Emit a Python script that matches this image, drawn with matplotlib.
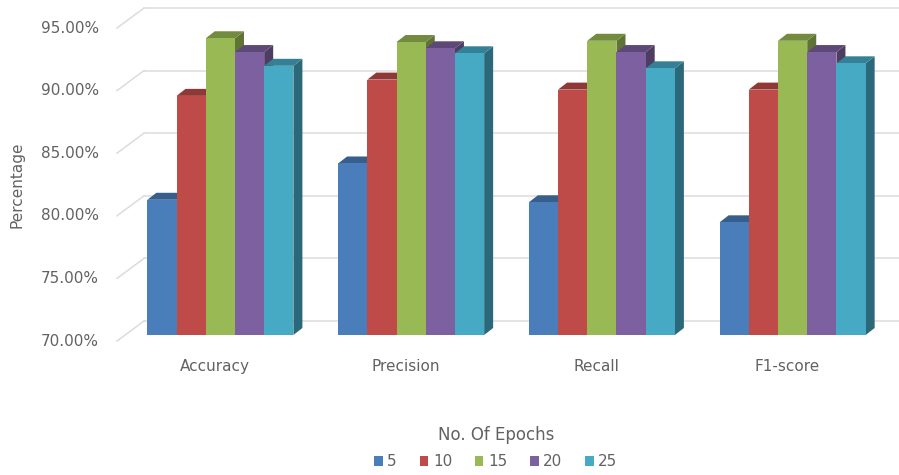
import matplotlib
matplotlib.use("Agg")
import matplotlib.pyplot as plt
import numpy as np
from matplotlib.patches import Polygon, Patch
from matplotlib.colors import to_rgb

# ---- data -------------------------------------------------------------
metrics = ["Accuracy", "Precision", "Recall", "F1-score"]
epochs = ["5", "10", "15", "20", "25"]
epoch_5 = [80.8, 83.7, 80.6, 79.0]
epoch_10 = [89.1, 90.4, 89.6, 89.6]
epoch_15 = [93.7, 93.4, 93.5, 93.5]
epoch_20 = [92.6, 92.9, 92.6, 92.6]
epoch_25 = [91.5, 92.5, 91.3, 91.7]
y_ticks = [70, 75, 80, 85, 90, 95]
y_tick_labels = ["70.00%", "75.00%", "80.00%", "85.00%", "90.00%", "95.00%"]

series = [epoch_5, epoch_10, epoch_15, epoch_20, epoch_25]
colors = ["#4a7ebb", "#be4b48", "#98b954", "#7d60a0", "#46aac5"]

# ---- figure / axes ----------------------------------------------------
W, H, DPI = 899, 475, 100
fig = plt.figure(figsize=(W / DPI, H / DPI), dpi=DPI)
fig.patch.set_facecolor("white")

ax_left, ax_bottom, ax_w, ax_h = 125, 140, 763, 313   # pixels
ax = fig.add_axes([ax_left / W, ax_bottom / H, ax_w / W, ax_h / H])
xmin, xmax = -0.5, len(metrics) - 0.5
ymin, ymax = y_ticks[0], y_ticks[-1]
ax.set_xlim(xmin, xmax)
ax.set_ylim(ymin, ymax)
ax.axis("off")


def px(dx, dy):
    """Convert a pixel offset to a data offset."""
    return dx * (xmax - xmin) / ax_w, dy * (ymax - ymin) / ax_h


label_dx, label_dy = px(-8, -6)    # plane of the axis labels (front)
back_dx, back_dy = px(19, 14)      # back wall
depth_dx, depth_dy = px(9, 7)      # bar depth

grid_col = "#dcdcdc"
text_col = "#626262"
font = "DejaVu Sans"

# back-wall gridlines and the slanted side-wall lines
for v, lab in zip(y_ticks, y_tick_labels):
    ax.plot([xmin + back_dx, xmax + back_dx], [v + back_dy, v + back_dy],
            color=grid_col, lw=1.1, clip_on=False, zorder=1)
    ax.plot([xmin + label_dx, xmin + back_dx], [v + label_dy, v + back_dy],
            color=grid_col, lw=1.1, clip_on=False, zorder=1)
    ax.text(xmin + label_dx - px(18, 0)[0], v + label_dy, lab,
            ha="right", va="center", fontsize=11, color=text_col,
            family=font, clip_on=False)


def shade(c, f):
    r, g, b = to_rgb(c)
    return (r * f, g * f, b * f)


# 3-D style clustered columns
n = len(series)
bw = 29.2 / 190.7
x = np.arange(len(metrics))
z = 3
for i, (vals, col) in enumerate(zip(series, colors)):
    xs = x + (i - (n - 1) / 2) * bw
    for xc, v in zip(xs, vals):
        x0, x1 = xc - bw / 2, xc + bw / 2
        side = Polygon([(x1, ymin), (x1 + depth_dx, ymin + depth_dy),
                        (x1 + depth_dx, v + depth_dy), (x1, v)],
                       closed=True, facecolor=shade(col, 0.62),
                       edgecolor="none", zorder=z, clip_on=False)
        top = Polygon([(x0, v), (x1, v), (x1 + depth_dx, v + depth_dy),
                       (x0 + depth_dx, v + depth_dy)],
                      closed=True, facecolor=shade(col, 0.75),
                      edgecolor="none", zorder=z, clip_on=False)
        ax.add_patch(side)
        ax.add_patch(top)
        ax.bar(xc, v - ymin, bottom=ymin, width=bw, color=col,
               edgecolor="none", zorder=z + 0.5, clip_on=False)
        z += 1

# category labels
for xc, name in zip(x, metrics):
    ax.text(xc - px(5, 0)[0], ymin - px(0, 31)[1], name, ha="center",
            va="center", fontsize=11, color=text_col, family=font,
            clip_on=False)

# axis titles
fig.text(17 / W, 1 - 185 / H, "Percentage", rotation=90, ha="center",
         va="center", fontsize=11, color=text_col, family=font)
fig.text(496 / W, 1 - 435 / H, "No. Of Epochs", ha="center", va="center",
         fontsize=12, color=text_col, family=font)

handles = [Patch(facecolor=c, edgecolor="none") for c in colors]
fig.legend(handles, epochs, loc="center", bbox_to_anchor=(496 / W, 1 - 462 / H),
           ncol=5, frameon=False, handlelength=0.55, handleheight=0.55,
           handletextpad=0.3, columnspacing=1.5,
           prop={"family": font, "size": 11}, labelcolor=text_col)

fig.savefig("out.png", dpi=DPI, facecolor="white")
